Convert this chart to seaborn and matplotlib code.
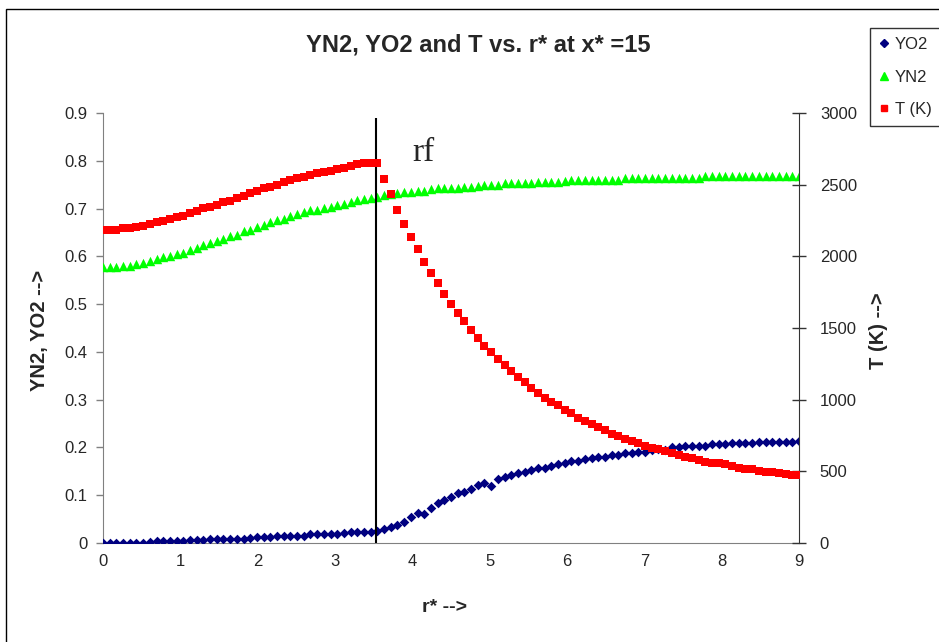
import numpy as np
import pandas as pd
import matplotlib
matplotlib.use("Agg")
import matplotlib.pyplot as plt
from matplotlib.lines import Line2D
from matplotlib.patches import Rectangle
import seaborn as sns

# r* grid (evenly spaced, 105 points from 0 to 9)
r = np.linspace(0, 9, 105)

yo2 = [0.001, 0.001, 0.001, 0.001, 0.001, 0.001, 0.001, 0.003, 0.005, 0.005,
       0.005, 0.005, 0.005, 0.006, 0.006, 0.006, 0.008, 0.008, 0.008, 0.008,
       0.008, 0.008, 0.011, 0.012, 0.012, 0.012, 0.015, 0.015, 0.015, 0.015,
       0.015, 0.019, 0.019, 0.019, 0.019, 0.019, 0.020, 0.022, 0.022, 0.022,
       0.022, 0.025, 0.029, 0.033, 0.038, 0.045, 0.054, 0.062, 0.061, 0.074,
       0.084, 0.090, 0.097, 0.104, 0.107, 0.114, 0.121, 0.125, 0.119, 0.133,
       0.138, 0.143, 0.146, 0.149, 0.153, 0.156, 0.158, 0.162, 0.165, 0.168,
       0.171, 0.172, 0.175, 0.177, 0.179, 0.181, 0.184, 0.185, 0.188, 0.188,
       0.191, 0.191, 0.195, 0.196, 0.195, 0.200, 0.200, 0.203, 0.203, 0.203,
       0.203, 0.207, 0.207, 0.207, 0.209, 0.209, 0.209, 0.209, 0.211, 0.211,
       0.211, 0.211, 0.211, 0.211, 0.214]

yn2 = [0.578, 0.578, 0.578, 0.580, 0.580, 0.584, 0.587, 0.590, 0.594, 0.598,
       0.601, 0.604, 0.606, 0.613, 0.617, 0.623, 0.627, 0.633, 0.637, 0.643,
       0.645, 0.652, 0.655, 0.662, 0.665, 0.672, 0.676, 0.678, 0.684, 0.688,
       0.692, 0.696, 0.698, 0.702, 0.704, 0.707, 0.710, 0.714, 0.718, 0.721,
       0.723, 0.724, 0.728, 0.730, 0.733, 0.734, 0.735, 0.737, 0.737, 0.741,
       0.742, 0.742, 0.743, 0.744, 0.746, 0.746, 0.747, 0.749, 0.749, 0.749,
       0.754, 0.754, 0.754, 0.754, 0.754, 0.756, 0.756, 0.756, 0.756, 0.758,
       0.759, 0.759, 0.759, 0.759, 0.759, 0.759, 0.759, 0.759, 0.765, 0.765,
       0.765, 0.765, 0.765, 0.765, 0.765, 0.765, 0.765, 0.765, 0.765, 0.765,
       0.768, 0.768, 0.768, 0.768, 0.768, 0.768, 0.768, 0.768, 0.768, 0.768,
       0.768, 0.768, 0.768, 0.768, 0.768]

temp = [2184, 2184, 2184, 2195, 2195, 2207, 2212, 2226, 2237, 2249,
        2260, 2272, 2281, 2300, 2316, 2335, 2347, 2358, 2379, 2388,
        2409, 2421, 2444, 2456, 2474, 2486, 2498, 2521, 2533, 2544,
        2556, 2568, 2579, 2586, 2598, 2609, 2619, 2630, 2642, 2654,
        2654, 2654, 2540, 2435, 2323, 2226, 2137, 2051, 1963, 1886,
        1812, 1737, 1667, 1602, 1551, 1486, 1428, 1374, 1330, 1286,
        1242, 1202, 1156, 1123, 1079, 1044, 1012, 981, 961, 928,
        905, 874, 851, 828, 807, 786, 763, 749, 728, 709,
        696, 677, 665, 654, 644, 626, 614, 602, 591, 579,
        567, 560, 556, 549, 537, 525, 514, 514, 504, 493,
        493, 486, 481, 474, 474]

rf_pos = 3.53
left_ticks = [0, 0.1, 0.2, 0.3, 0.4, 0.5, 0.6, 0.7, 0.8, 0.9]
right_ticks = [0, 500, 1000, 1500, 2000, 2500, 3000]
x_ticks = [0, 1, 2, 3, 4, 5, 6, 7, 8, 9]

df = pd.DataFrame({"r": r, "YO2": yo2, "YN2": yn2, "T": temp})

sns.set_style("white")
plt.rcParams["font.family"] = ["Liberation Sans", "DejaVu Sans"]

fig = plt.figure(figsize=(9.39, 6.42), dpi=100)
ax = fig.add_axes([103 / 939, 99 / 642, 696 / 939, 430 / 642])
ax2 = ax.twinx()

navy, green, red = "#000080", "#00FF00", "#FF0000"

sns.scatterplot(data=df, x="r", y="YN2", ax=ax, marker="^", color=green,
                s=46, linewidth=0, legend=False, zorder=3)
sns.scatterplot(data=df, x="r", y="YO2", ax=ax, marker="D", color=navy,
                s=24, linewidth=0, legend=False, zorder=3)
sns.scatterplot(data=df, x="r", y="T", ax=ax2, marker="s", color=red,
                s=28, linewidth=0, legend=False, zorder=3)

ax.set_xlim(0, 9)
ax.set_ylim(0, 0.9)
ax2.set_ylim(0, 3000)
ax.set_xticks(x_ticks)
ax.set_yticks(left_ticks)
ax.set_yticklabels([f"{v:g}" for v in left_ticks])
ax2.set_yticks(right_ticks)

# front position line and label
ax.vlines(rf_pos, 0, 0.89, color="black", lw=1.5, zorder=4)
ax.text(4.0, 0.80, "rf", fontsize=24, family="Liberation Serif", va="baseline")

for a in (ax, ax2):
    a.set_xlabel("")
    a.set_ylabel("")
    a.spines["top"].set_visible(False)
ax.spines["right"].set_visible(False)
ax2.spines["left"].set_visible(False)
ax2.spines["bottom"].set_visible(False)
ax.spines["left"].set_color("#808080")
ax.spines["bottom"].set_color("#808080")
ax2.spines["right"].set_color("#333333")

ax.tick_params(axis="y", direction="out", length=5, width=1,
               color="#808080", labelsize=12, pad=6)
ax.tick_params(axis="x", direction="out", length=5, width=1,
               color="#808080", labelsize=12, pad=3)
ax2.tick_params(axis="y", direction="inout", length=10, width=1,
                color="#333333", labelsize=12, pad=10)

fig.text(478 / 939, 1 - 45 / 642, "YN2, YO2 and T vs. r* at x* =15",
         ha="center", va="center", fontsize=17, fontweight="bold")
fig.text(39 / 939, 1 - 330 / 642, "YN2, YO2 -->", rotation=90,
         ha="center", va="center", fontsize=14.5, fontweight="bold")
fig.text(878 / 939, 1 - 331 / 642, "T (K) -->", rotation=90,
         ha="center", va="center", fontsize=14.5, fontweight="bold")
fig.text(445 / 939, 1 - 607 / 642, "r* -->",
         ha="center", va="center", fontsize=14, fontweight="bold")

handles = [
    Line2D([], [], marker="D", color=navy, linestyle="none", markersize=4),
    Line2D([], [], marker="^", color=green, linestyle="none", markersize=6),
    Line2D([], [], marker="s", color=red, linestyle="none", markersize=4.5),
]
leg = fig.legend(handles, ["YO2", "YN2", "T (K)"], loc="upper left",
                 bbox_to_anchor=(870 / 939, 1 - 28 / 642), fontsize=12,
                 frameon=True, fancybox=False, handlelength=0.6,
                 handletextpad=0.35, borderpad=0.55, labelspacing=1.05,
                 borderaxespad=0)
leg.get_frame().set_edgecolor("black")
leg.get_frame().set_linewidth(1)

# outer chart border (left and top edges visible)
fig.patches.append(Rectangle((6 / 939, -0.1), 1.2, 1.1 - 9 / 642,
                             transform=fig.transFigure, fill=False,
                             edgecolor="black", lw=1))

fig.savefig("out.png", dpi=100)
